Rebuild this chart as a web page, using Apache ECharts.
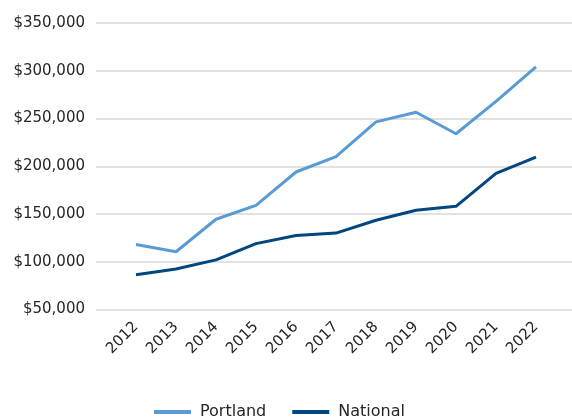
<!DOCTYPE html>
<html>
<head>
<meta charset="utf-8">
<script src="https://cdn.jsdelivr.net/npm/echarts@6/dist/echarts.min.js"></script>
<style>
  html, body { margin: 0; padding: 0; background: #fff; }
  #chart { width: 572px; height: 419px; }
</style>
</head>
<body>
<div id="chart"></div>
<script>
// 年份与房价数据
const years = [2012, 2013, 2014, 2015, 2016, 2017, 2018, 2019, 2020, 2021, 2022];
const portland = [118000, 110500, 144500, 159000, 194000, 210000, 246500, 256500, 234000, 268000, 304000];
const national = [86500, 92500, 102000, 119000, 127500, 130000, 143500, 154000, 158000, 192500, 209500];
const seriesNames = ['Portland', 'National'];

const fontFamily = '"DejaVu Sans", sans-serif';

function pairs(values) {
  return years.map((y, i) => [y, values[i]]);
}

const chart = echarts.init(document.getElementById('chart'));

chart.setOption({
  animation: false,
  grid: { left: 96, right: 0, top: 23, height: 286.5, containLabel: false },
  xAxis: {
    type: 'value',
    min: 2011,
    max: 2022.9,
    interval: 1,
    axisLine: { show: false },
    axisTick: { show: false },
    splitLine: { show: false },
    axisLabel: {
      rotate: 45,
      margin: 15,
      color: '#262626',
      fontSize: 15,
      fontFamily: fontFamily,
      showMaxLabel: false,
      formatter: v => years.includes(v) ? String(v) : ''
    }
  },
  yAxis: {
    type: 'value',
    min: 50000,
    max: 350000,
    interval: 50000,
    axisLine: { show: false },
    axisTick: { show: false },
    splitLine: { lineStyle: { color: '#d9d9d9', width: 1.5 } },
    axisLabel: {
      margin: 11,
      color: '#262626',
      fontSize: 15,
      fontFamily: fontFamily,
      formatter: v => '$' + v.toLocaleString('en-US')
    }
  },
  legend: {
    top: 399,
    left: 149,
    itemGap: 26,
    itemWidth: 37,
    itemHeight: 4,
    icon: 'rect',
    textStyle: { fontSize: 16, color: '#262626', fontFamily: fontFamily, padding: [0, 0, 0, 4] },
    data: seriesNames
  },
  series: [
    {
      name: seriesNames[0],
      type: 'line',
      data: pairs(portland),
      symbol: 'none',
      lineStyle: { width: 3, color: '#5b9bd5' },
      itemStyle: { color: '#5b9bd5' }
    },
    {
      name: seriesNames[1],
      type: 'line',
      data: pairs(national),
      symbol: 'none',
      lineStyle: { width: 3, color: '#00467f' },
      itemStyle: { color: '#00467f' }
    }
  ]
});
</script>
</body>
</html>
